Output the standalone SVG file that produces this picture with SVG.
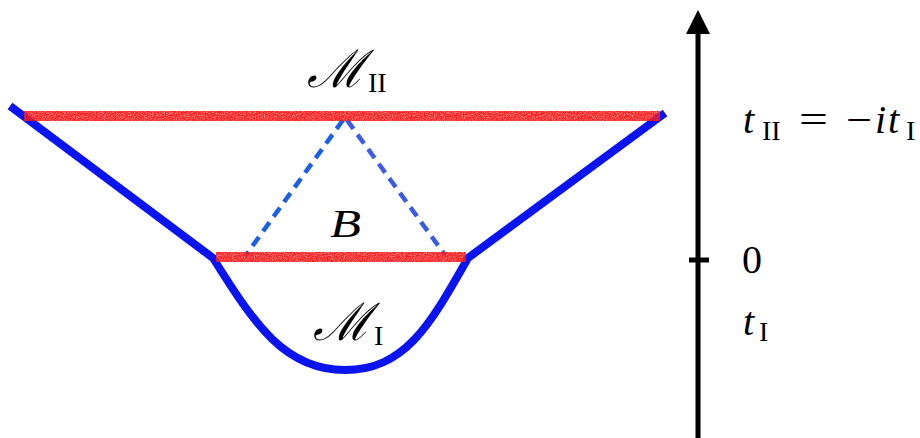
<svg xmlns="http://www.w3.org/2000/svg" width="920" height="438" viewBox="0 0 920 438">
<style>
.red{stroke:#ff1a1a;stroke-width:10;fill:none}
.blue{stroke:#0a14f0;stroke-width:8;fill:none;stroke-linejoin:round}
.dash{stroke-width:4.5;fill:none;stroke-dasharray:11,7}
.t{font-family:"Liberation Serif","DejaVu Serif",serif;font-size:40px;fill:#000}
.it{font-style:italic}
.sub{font-size:28px}
.scr{font-family:"DejaVu Serif","Liberation Serif",serif;font-style:italic;font-size:52px}
</style>
<defs>
<filter id="noise" filterUnits="userSpaceOnUse" x="0" y="0" width="920" height="438">
<feTurbulence type="fractalNoise" baseFrequency="0.9" numOctaves="1" result="n"/>
<feColorMatrix in="n" type="matrix" values="0 0 0 0 0  0 0 0 0 0  0 0 0 0 0  0 0 0 -1.5 1.6" result="a"/>
<feComposite in="SourceGraphic" in2="a" operator="in"/>
</filter>
<marker id="arr" viewBox="0 0 24 24" markerWidth="24" markerHeight="24" refX="2" refY="12" orient="auto" markerUnits="userSpaceOnUse">
<path d="M0,0 L24,12 L0,24 Z" fill="#000"/>
</marker>
</defs>
<g id="connectors">
<path id="dash-left" class="dash" stroke="#1a5fe8" d="M343,120 L246,255"/>
<path id="dash-right" class="dash" stroke="#3a5ae8" d="M347,120 L445,255"/>
</g>
<g id="M_I">
<path class="blue" d="M10,106 L213,258 C255,325 285,370 345,370 C405,370 430,325 468,258 L665,113"/>
</g>
<g id="M_II_slice">
<path class="red" filter="url(#noise)" d="M24,116 L660,116"/>
</g>
<g id="B_slice">
<path class="red" filter="url(#noise)" d="M216,257 L466,257"/>
</g>
<g id="axis">
<line x1="698" y1="438" x2="698" y2="32" stroke="#000" stroke-width="5" marker-end="url(#arr)"/>
<line x1="689" y1="260" x2="709" y2="260" stroke="#000" stroke-width="5"/>
</g>
<g id="labels">
<text class="t scr" x="307" y="87" textLength="58" lengthAdjust="spacingAndGlyphs">ℳ</text>
<text class="t sub" x="368" y="92">II</text>
<text class="t it" x="330" y="237" textLength="31" lengthAdjust="spacingAndGlyphs">B</text>
<text class="t scr" x="313" y="340" textLength="58" lengthAdjust="spacingAndGlyphs">ℳ</text>
<text class="t sub" x="374" y="345">I</text>
<text class="t it" x="743" y="133">t</text>
<text class="t sub" x="762" y="140">II</text>
<text class="t" x="799" y="133" textLength="29" lengthAdjust="spacingAndGlyphs">=</text>
<text class="t" x="846" y="133" textLength="26" lengthAdjust="spacingAndGlyphs">−</text>
<text class="t it" x="875" y="133">i</text>
<text class="t it" x="888" y="133">t</text>
<text class="t sub" x="906" y="140">I</text>
<text class="t" x="742" y="273">0</text>
<text class="t it" x="743" y="335">t</text>
<text class="t sub" x="759" y="341">I</text>
</g>
</svg>
